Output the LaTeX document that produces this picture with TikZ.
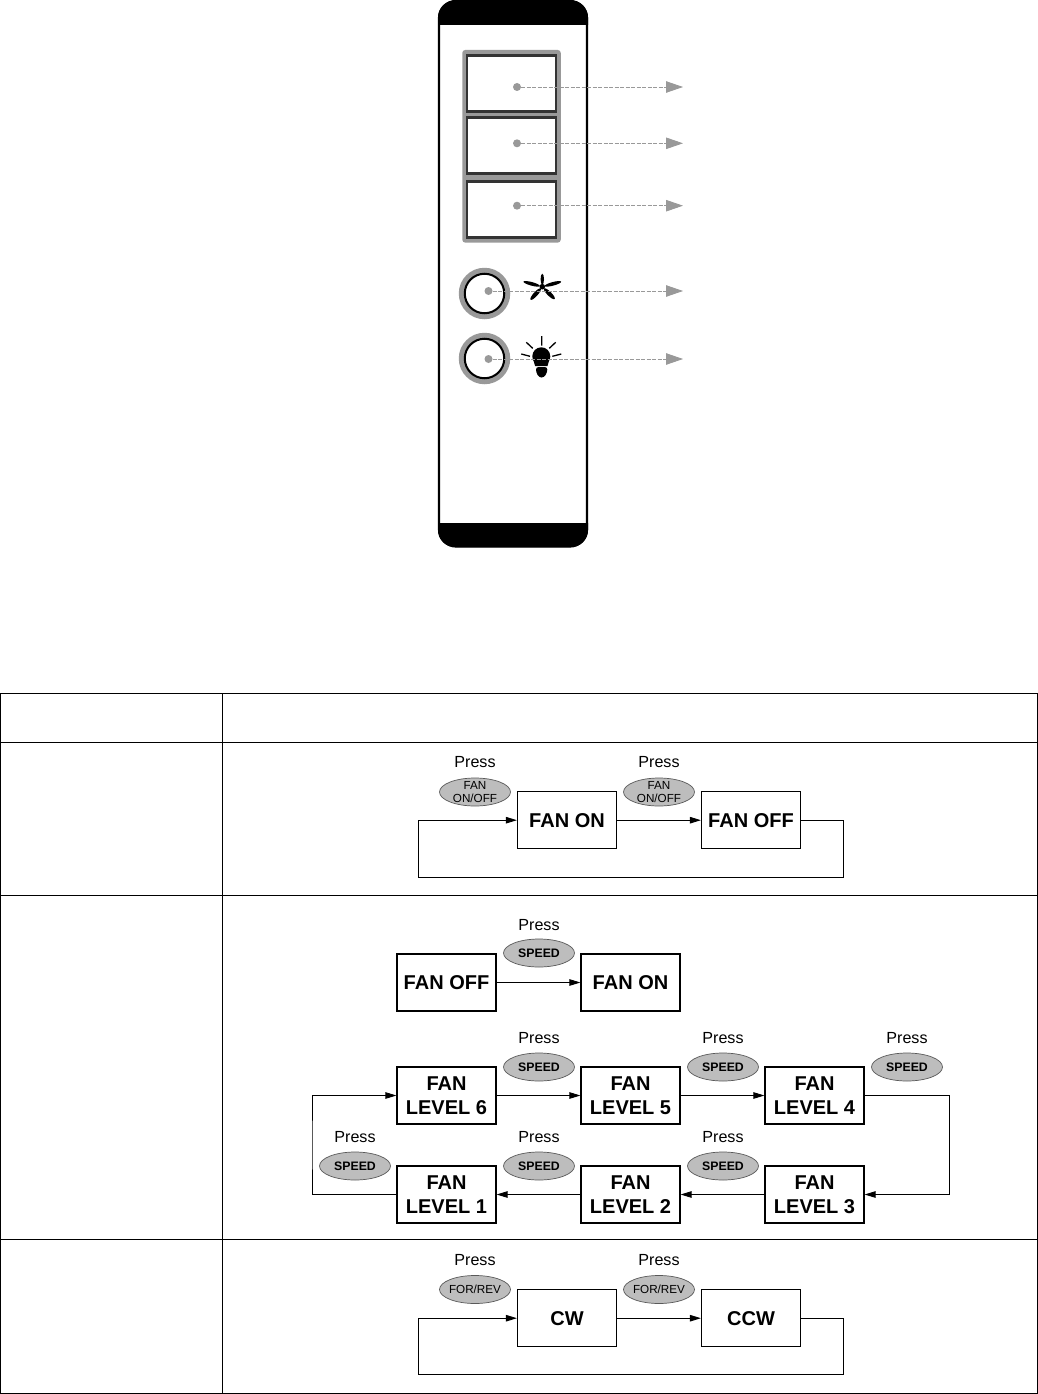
\documentclass[tikz,border=0pt]{standalone}
\usepackage{fontspec}
\setmainfont{Liberation Sans}
\usetikzlibrary{arrows.meta,shapes.geometric}
\definecolor{keygray}{HTML}{999999}
\definecolor{keydark}{HTML}{333333}
\definecolor{ovalgray}{HTML}{BDBDBD}
\tikzset{
  keybox/.style={draw=keydark,fill=white,line width=2.7pt,minimum width=89pt,minimum height=56pt,inner sep=0pt},
  keydot/.style={circle,fill=keygray,minimum size=8pt,inner sep=0pt},
  dashline/.style={dashed,dash pattern=on 4pt off 1.5pt,draw=keygray,line width=0.8pt,-{Triangle[length=17pt,width=11.5pt,fill=keygray]}},
  fanbox/.style={draw,line width=1.2pt,minimum width=99pt,minimum height=57pt,inner sep=0pt,align=center,font=\fontsize{20}{24}\selectfont\bfseries},
  oval/.style={ellipse,draw=black!65,fill=ovalgray,line width=0.7pt,minimum width=71pt,minimum height=28pt,inner sep=-14pt,align=center,text=black,font=\fontsize{11.7}{13.5}\selectfont},
  speed/.style={oval,font=\fontsize{12.3}{14}\selectfont\bfseries},
  presstext/.style={inner sep=0pt,font=\fontsize{16.1}{18}\selectfont},
  flow/.style={line width=0.9pt,-{Triangle[length=11pt,width=6.5pt]}}
}
\begin{document}
\begin{tikzpicture}[x=1pt,y=-1pt]
  \useasboundingbox (0,0) rectangle (1038,1394);
  % remote
  \draw[line width=2.2pt,rounded corners=17pt] (439,1) rectangle (587,546.5);
  \begin{scope}
    \clip (436,0) rectangle (590,24.5);
    \fill[rounded corners=17pt] (438,0.5) rectangle (588,60);
  \end{scope}
  \begin{scope}
    \clip (436,523) rectangle (590,549);
    \fill[rounded corners=17pt] (438,500) rectangle (588,547);
  \end{scope}
  \node[fill=keygray,rounded corners=3pt,minimum width=98.5pt,minimum height=192.7pt,inner sep=0pt] (keyframe) at (511.5,146.3) {};
  \node[keybox] (key1) at (511.5,83.3) {};
  \node[keybox] (key2) at (511.5,145.3) {};
  \node[keybox] (key3) at (511.5,209.3) {};
  \node[circle,fill=keygray,minimum size=51.5pt,inner sep=0pt] (ringa) at (484.5,293.5) {};
  \node[circle,draw,fill=white,line width=2pt,minimum size=39.5pt,inner sep=0pt] (bta) at (484.5,293.5) {};
  \node[circle,fill=keygray,minimum size=51.5pt,inner sep=0pt] (ringb) at (484.5,358.5) {};
  \node[circle,draw,fill=white,line width=2pt,minimum size=39.5pt,inner sep=0pt] (btb) at (484.5,358.5) {};
  % fan
  \fill (542.3,286.7) circle (2.8);
  \fill[shift={(542.3,286.7)},rotate=90] (7.5,0) ellipse [x radius=5.5,y radius=1.7];
  \fill[shift={(542.3,286.7)},rotate=15] (11,0) ellipse [x radius=8.5,y radius=1.8];
  \fill[shift={(542.3,286.7)},rotate=165] (11,0) ellipse [x radius=8.5,y radius=1.8];
  \fill[shift={(542.3,286.7)},rotate=-45] (10,0) ellipse [x radius=7.5,y radius=2.1];
  \fill[shift={(542.3,286.7)},rotate=-132] (10,0) ellipse [x radius=7.5,y radius=2.1];
  % bulb
  \fill (541.3,356.3) circle (9);
  \fill (532.8,358) -- (549.8,358) -- (547.5,366) -- (535.1,366) -- cycle;
  \fill[rounded corners=2.5pt] (536,367) -- (547.3,367) -- (547.3,372) -- (544,377.5) -- (539,377.5) -- (536,372) -- cycle;
  \draw[line width=1.3pt] (541.7,336) -- (541.7,345.7) (526.3,342.3) -- (532.7,348.3) (555.7,342.3) -- (549.3,348.3) (521.3,354) -- (530,356.3) (561.3,354) -- (552.3,356.3);
  % pointers
  \node[keydot] (dota) at (517,87) {};
  \node[keydot] (dotb) at (517,143.3) {};
  \node[keydot] (dotc) at (517,205.7) {};
  \node[keydot] (dotd) at (488.5,291) {};
  \node[keydot] (dote) at (488.5,359) {};
  \coordinate (tipa) at (683,87);
  \coordinate (tipb) at (683,143.3);
  \coordinate (tipc) at (683,205.7);
  \coordinate (tipd) at (683,291);
  \coordinate (tipe) at (683,359);
  \draw[dashline] (dota) -- (tipa);
  \draw[dashline] (dotb) -- (tipb);
  \draw[dashline] (dotc) -- (tipc);
  \draw[dashline] (dotd) -- (tipd);
  \draw[dashline] (dote) -- (tipe);
  % table
  \draw[line width=1.2pt] (0.6,693.5) rectangle (1037.4,1393.4);
  \draw[line width=1.2pt] (222.5,693.5) -- (222.5,1393.4)
    (0.6,742.5) -- (1037.4,742.5) (0.6,895.5) -- (1037.4,895.5) (0.6,1239.5) -- (1037.4,1239.5);
  % on/off row
  \node[fanbox] (fanona) at (567,820.2) {FAN ON};
  \node[fanbox] (fanoffa) at (751,820.2) {FAN OFF};
  \node[presstext] (pressa) at (475,762.3) {Press};
  \node[presstext] (pressb) at (659,762.3) {Press};
  \node[oval] (ovala) at (475,792) {FAN\\ON/OFF};
  \node[oval] (ovalb) at (659,792) {FAN\\ON/OFF};
  \coordinate (looplefta) at (418,877);
  \coordinate (looprighta) at (843,877);
  \draw[flow] (fanona) -- (fanoffa);
  \draw[flow] (fanoffa) -| (looprighta) -- (looplefta) |- (fanona);
  % speed row
  \node[fanbox] (fanoffb) at (446.5,982.5) {FAN OFF};
  \node[fanbox] (fanonb) at (630.5,982.5) {FAN ON};
  \node[presstext] (pressc) at (539,925.3) {Press};
  \node[speed] (ovalc) at (539,953) {SPEED};
  \draw[flow] (fanoffb) -- (fanonb);
  \node[fanbox] (levelf) at (446.5,1095.5) {FAN\\LEVEL 6};
  \node[fanbox] (levele) at (630.5,1095.5) {FAN\\LEVEL 5};
  \node[fanbox] (leveld) at (814.5,1095.5) {FAN\\LEVEL 4};
  \node[fanbox] (levelc) at (814.5,1194.5) {FAN\\LEVEL 3};
  \node[fanbox] (levelb) at (630.5,1194.5) {FAN\\LEVEL 2};
  \node[fanbox] (levela) at (446.5,1194.5) {FAN\\LEVEL 1};
  \node[presstext] (pressd) at (539,1038.3) {Press};
  \node[presstext] (presse) at (723,1038.3) {Press};
  \node[presstext] (pressf) at (907,1038.3) {Press};
  \node[presstext] (pressg) at (355,1137.3) {Press};
  \node[presstext] (pressh) at (539,1137.3) {Press};
  \node[presstext] (pressi) at (723,1137.3) {Press};
  \node[speed] (ovald) at (539,1067) {SPEED};
  \node[speed] (ovale) at (723,1067) {SPEED};
  \node[speed] (ovalf) at (907,1067) {SPEED};
  \node[speed] (ovalg) at (355,1166) {SPEED};
  \node[speed] (ovalh) at (539,1166) {SPEED};
  \node[speed] (ovali) at (723,1166) {SPEED};
  \coordinate (loopleftb) at (312,1145);
  \coordinate (looprightb) at (949,1145);
  \draw[flow] (levelf) -- (levele);
  \draw[flow] (levele) -- (leveld);
  \draw[flow] (leveld) -| (looprightb) |- (levelc);
  \draw[flow] (levelc) -- (levelb);
  \draw[flow] (levelb) -- (levela);
  \draw[flow] (levela) -| (loopleftb) |- (levelf);
  % direction row
  \node[fanbox] (cw) at (567,1318.2) {CW};
  \node[fanbox] (ccw) at (751,1318.2) {CCW};
  \node[presstext] (pressj) at (475,1260.3) {Press};
  \node[presstext] (pressk) at (659,1260.3) {Press};
  \node[oval] (ovalj) at (475,1289.5) {FOR/REV};
  \node[oval] (ovalk) at (659,1289.5) {FOR/REV};
  \coordinate (loopleftc) at (418,1374.5);
  \coordinate (looprightc) at (843,1374.5);
  \draw[flow] (cw) -- (ccw);
  \draw[flow] (ccw) -| (looprightc) -- (loopleftc) |- (cw);
\end{tikzpicture}
\end{document}
